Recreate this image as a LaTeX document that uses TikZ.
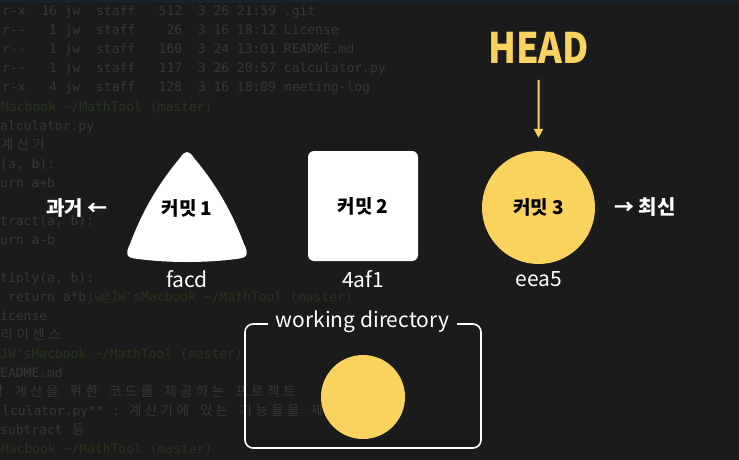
\documentclass[tikz,border=0pt]{standalone}
\usepackage{fontspec}
\setmainfont{Noto Sans CJK KR}
\setmonofont{DejaVu Sans Mono}
\newfontfamily\termkr{Noto Sans CJK KR}
\usetikzlibrary{arrows.meta}

\definecolor{bgdark}{HTML}{1B1B1B}
\definecolor{topband}{HTML}{1B2131}
\definecolor{termgray}{HTML}{373737}
\definecolor{termgreen}{HTML}{28341F}
\definecolor{commityellow}{HTML}{F9D35E}

% Korean in the terminal: one cell pair per letter
\newcommand\kr[1]{\krchars#1\relax}
\def\krchars#1{\ifx#1\relax\else\makebox[15.8pt]{\termkr\fontsize{13.5}{13.5}\selectfont#1}\expandafter\krchars\fi}

\tikzset{
    term/.style={anchor=base west, inner sep=0pt, font=\ttfamily\fontsize{13}{13}\selectfont, text=termgray},
    prompt/.style={term, text=termgreen},
    commitlabel/.style={font=\bfseries\fontsize{19}{19}\selectfont, text=black},
    commitbox/.style={commitlabel, fill=white, rounded corners=6pt, minimum width=110pt, minimum height=110pt},
    commitcircle/.style={commitlabel, circle, fill=commityellow, minimum size=113pt},
    hashlabel/.style={font=\fontsize{21}{21}\selectfont, text=white},
    sidelabel/.style={font=\bfseries\fontsize{20}{20}\selectfont, text=white},
}

\begin{document}
\begin{tikzpicture}[x=1pt, y=-1pt]
    % Background
    \useasboundingbox (0,0) rectangle (739,460);
    \fill[bgdark] (0,0) rectangle (739,460);
    \fill[topband] (0,0) rectangle (739,3);

    % Terminal text behind
    \foreach \i/\x/\y/\txt in {1/2/11/{r-x~~16~jw~~staff~~~512~~3~26~21:59~.git},
            2/2/30/{r--~~~1~jw~~staff~~~~26~~3~16~18:12~License},
            3/2/49/{r--~~~1~jw~~staff~~~160~~3~24~13:01~README.md},
            4/2/68/{r--~~~1~jw~~staff~~~117~~3~26~20:57~calculator.py},
            5/2/87/{r-x~~~4~jw~~staff~~~128~~3~16~18:09~meeting-log},
            7/0/125/{alculator.py},
            8/-1/144/{\kr{계산기}},
            9/0/163/{(a,~b):},
            10/0/182/{urn~a+b},
            12/0/220/{tract(a,~b):},
            13/0/239/{urn~a-b},
            15/0/277/{tiply(a,~b):},
            16/0/296/{~return~a*b},
            17/0/315/{icense},
            18/-1/334/{\kr{라이센스}},
            20/0/372/{EADME.md},
            21/-11/391/{\kr{학}~\kr{계산을}~\kr{위한}~\kr{코드를}~\kr{제공하는}~\kr{프로젝트}},
            22/2/410/{lculator.py**~:~\kr{계산기에}~\kr{있는}~\kr{기능들을}~\kr{제공합니다}},
            23/0/429/{subtract~\kr{등}}}
        \node[term] (ls\i) at (\x,\y+5) {\txt};
    \foreach \i/\x/\y/\txt in {6/1/106/{Macbook~\textasciitilde/MathTool~(master)},
            19/0/353/{JW'sMacbook~\textasciitilde/MathTool~(master)},
            24/1/448/{Macbook~\textasciitilde/MathTool~(master)}}
        \node[prompt] (ps\i) at (\x,\y+5) {\txt};
    \node[prompt] (ps16) at (ls16.base east) {jw@JW'sMacbook~\textasciitilde/MathTool~(master)};

    % Commit 1 (rounded triangle)
    \fill[white] (180,158) .. controls (185,150) and (189,150) .. (194,158)
        .. controls (216,184) and (232,212) .. (244,244)
        .. controls (250,256) and (246,258) .. (236,259)
        .. controls (205,263) and (169,263) .. (138,259)
        .. controls (128,258) and (124,256) .. (130,244)
        .. controls (142,212) and (158,184) .. cycle;
    \node[commitlabel] (commitA) at (187,208) {커밋 1};

    % Commit 2 and 3
    \node[commitbox] (commitB) at (363,206) {커밋 2};
    \node[commitcircle] (commitC) at (538.5,207.5) {커밋 3};

    % Hashes
    \node[hashlabel] (hashA) at (187,279) {facd};
    \node[hashlabel] (hashB) at (363,279) {4af1};
    \node[hashlabel] (hashC) at (539,279) {eea5};

    % HEAD pointer
    \node[font=\bfseries\fontsize{42}{42}\selectfont, text=commityellow, inner sep=0pt, transform shape, xscale=0.86] (head) at (538.5,48) {HEAD};
    \draw[commityellow, line width=2pt, -{Triangle[length=9pt, width=9pt]}, shorten <=16pt, shorten >=13pt] (head) -- (commitC);

    % Past / latest
    \node[sidelabel] (past) at (77,208) {과거 ←};
    \node[sidelabel] (latest) at (645,207) {→ 최신};

    % Working directory
    \node[draw=white, line width=1.6pt, rounded corners=8pt, minimum width=236pt, minimum height=124pt] (wdbox) at (363,386) {};
    \node[fill=bgdark, inner xsep=8pt, font=\fontsize{21}{21}\selectfont, text=white] (wdlabel) at (362.5,322) {working directory};
    \node[circle, fill=commityellow, minimum size=84pt] (wdfile) at (363,397) {};
\end{tikzpicture}
\end{document}
